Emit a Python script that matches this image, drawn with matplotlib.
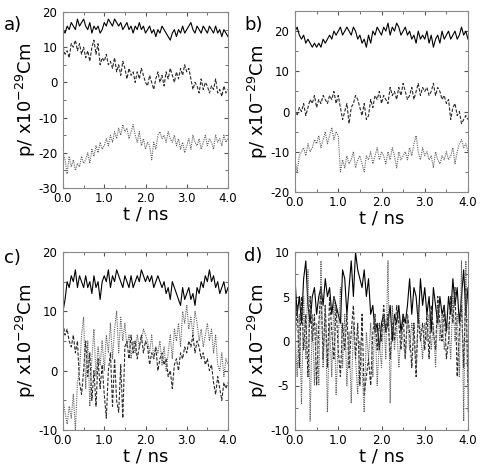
import numpy as np
import matplotlib
matplotlib.use("Agg")
import matplotlib.pyplot as plt

plt.rcParams["axes.unicode_minus"] = False

T = np.linspace(0.0, 4.0, 81)

A1 = [15, 14, 16, 15, 17, 16, 15, 18, 16, 17, 18,
      16, 15, 17, 14, 16, 15, 16, 14, 15, 17,
      16, 18, 17, 16, 18, 17, 16, 17, 15, 16,
      17, 15, 16, 14, 16, 15, 17, 15, 16, 14,
      15, 16, 14, 15, 13, 15, 14, 16, 15, 14,
      13, 12, 14, 15, 13, 15, 14, 16, 14, 15,
      16, 17, 15, 14, 16, 15, 14, 16, 15, 14,
      16, 15, 14, 16, 14, 15, 13, 15, 14, 13]
A2 = [10, 8, 9, 7, 11, 10, 12, 9, 11, 8, 10,
      7, 9, 6, 10, 12, 8, 11, 5, 7, 6,
      8, 5, 6, 4, 7, 3, 5, 2, 6, 4,
      1, 4, 2, 3, 0, 3, 1, 4, 2, 0,
      -1, 2, 0, -2, 1, 3, 0, 2, -1, 3,
      1, 4, 2, 0, 3, 1, 4, 2, 5, 3,
      4, 1, -2, 0, -1, -3, 1, -2, 0, -1,
      -3, -1, -2, 1, -3, -2, -4, -1, -3, -2]
A3 = [-20, -22, -26, -21, -24, -22, -25, -23, -24, -21, -23,
      -22, -20, -23, -19, -21, -18, -20, -17, -19, -18,
      -16, -18, -15, -17, -14, -16, -13, -15, -12, -14,
      -13, -16, -14, -12, -15, -17, -14, -18, -16, -19,
      -17, -18, -22, -17, -19, -15, -14, -16, -15, -17,
      -14, -16, -17, -15, -18, -16, -19, -17, -20, -18,
      -16, -19, -15, -17, -18, -16, -19, -17, -15, -18,
      -16, -17, -19, -15, -17, -16, -18, -15, -17, -16]

B1 = [20, 21, 19, 18, 19, 17, 18, 17, 16, 17, 16,
      17, 16, 18, 17, 18, 19, 18, 20, 19, 20,
      21, 19, 20, 21, 20, 19, 21, 20, 18, 19,
      17, 18, 16, 19, 17, 20, 19, 21, 20, 19,
      21, 20, 22, 19, 21, 20, 22, 21, 19, 20,
      21, 19, 20, 18, 19, 17, 20, 18, 19, 18,
      20, 17, 19, 16, 18, 19, 17, 20, 18, 19,
      20, 18, 19, 20, 18, 19, 21, 19, 20, 18]
B2 = [0, -1, 1, 0, 2, -1, 1, 3, 2, 4, 1,
      3, 2, 4, 3, 2, 4, 3, 5, 2, 4,
      1, -2, 0, 2, -3, 1, 2, 4, 3, 1,
      -1, 2, -2, -1, 3, 1, 4, 3, 5, 2,
      4, 3, 2, 6, 4, 5, 3, 6, 4, 7,
      5, 3, 4, 6, 3, 5, 7, 4, 6, 5,
      6, 4, 5, 7, 4, 6, 5, 3, 4, 2,
      3, -2, 1, 2, -1, 0, -3, -2, -1, -2]
B3 = [-12, -15, -11, -10, -9, -11, -8, -10, -9, -7, -8,
      -6, -9, -7, -5, -8, -6, -4, -7, -5, -6,
      -15, -12, -14, -11, -13, -12, -10, -14, -12, -11,
      -13, -15, -11, -12, -10, -13, -11, -9, -12, -10,
      -11, -13, -10, -12, -9, -11, -14, -10, -12, -11,
      -10, -12, -9, -11, -8, -6, -10, -12, -9, -11,
      -10, -12, -11, -14, -10, -12, -13, -11, -12, -10,
      -12, -11, -9, -13, -10, -8, -7, -9, -8, -10]

C1 = [10, 12, 15, 14, 16, 15, 17, 14, 16, 15, 14,
      16, 14, 15, 13, 16, 14, 15, 12, 15, 16,
      15, 17, 14, 16, 15, 17, 16, 15, 14, 16,
      15, 14, 16, 14, 15, 16, 15, 17, 16, 15,
      16, 15, 16, 14, 15, 16, 15, 14, 15, 13,
      14, 12, 15, 14, 13, 12, 11, 14, 12, 13,
      14, 12, 13, 11, 14, 13, 15, 14, 16, 15,
      17, 15, 16, 14, 15, 13, 14, 15, 13, 14]
C2 = [8, 6, 7, 5, 4, 6, 3, 5, -2, -4, 0,
      5, -1, 3, -5, 0, -6, 2, -3, 1, -4,
      -8, 0, 3, -6, 2, -5, -7, 1, -8, 4,
      5, 2, 6, 3, 5, 2, 4, 6, 3, 5,
      4, 1, 3, 2, 4, 0, 2, 3, 1, 2,
      -1, 0, -3, 1, 2, 0, 3, 2, 4, 3,
      5, 4, 6, 3, 5, 4, 2, 3, 1, 2,
      0, 1, -2, -4, -1, -3, -5, -2, -3, -2]
C3 = [-5, -7, -9, -6, -8, -4, -10, -2, 0, 6, 9,
      -3, 5, -6, 2, 7, -1, 4, 1, 5, 0,
      6, 3, 8, 2, 7, 10, 3, 9, 5, 8,
      4, 6, 2, 5, 3, 6, 4, 5, 7, 6,
      5, 3, 6, 2, 4, 3, 5, 1, 4, 0,
      3, 6, 2, 7, 5, 8, 4, 10, 8, 11,
      7, 9, 6, 10, 8, 5, 7, 4, 6, 8,
      5, 7, 3, 6, 1, 0, 3, -1, 2, 1]

D1 = [7, 3, 5, 2, 7, 9, 4, 2, 5, 6, 3,
      5, 6, 4, 7, 5, 6, 3, 5, 4, 3,
      2, 8, 7, 3, 6, 9, 5, 10, 8, 7,
      6, 8, 5, 7, 3, 4, 1, 2, -1, 2,
      3, 1, 2, 4, 0, 3, 2, 4, 1, 3,
      2, 4, 7, 3, 6, 5, 2, 7, 4, 6,
      3, 5, 1, 6, 4, 2, 5, 3, 4, 1,
      5, 3, 7, 4, 6, 2, 5, 8, 3, 6]
D2 = [0, 4, -3, 5, -1, 3, -4, 5, 0, 3, -5,
      2, 6, -2, 4, -3, 5, 1, -2, 4, -1,
      -4, 2, -1, 3, -3, 1, 4, -2, 2, -5,
      3, -6, -4, -2, -5, 1, 3, -1, 2, 0,
      4, 1, 3, -2, 2, 0, 4, 2, -1, 3,
      -2, 3, 1, -3, 2, -4, 3, 0, 2, -1,
      3, -2, 4, 1, -1, 5, 2, 0, 4, -2,
      0, 5, 2, 6, -4, 1, 4, -3, 6, -5]
D3 = [1, -4, 3, -7, 5, -2, 8, -9, 3, -5, 2,
      -5, 9, -3, 4, -8, 2, -4, 5, -6, 0,
      6, -3, 3, -5, 1, -7, 2, -2, -6, 0,
      -3, -8, 1, -2, 2, -4, 3, -5, 0, -3,
      3, -2, 9, -7, 4, -1, 2, -3, 1, 0,
      -2, 3, -1, 2, 0, -3, 4, 1, -2, 2,
      0, 3, -1, 2, -3, 4, 0, 3, -1, 1,
      2, -2, 5, 0, 3, -4, 9, -9, 9, -8]

PANELS = [
    ("a)", (A1, A2, A3), (-30, 20), [-30, -20, -10, 0, 10, 20]),
    ("b)", (B1, B2, B3), (-20, 25), [-20, -10, 0, 10, 20]),
    ("c)", (C1, C2, C3), (-10, 20), [-10, 0, 10, 20]),
    ("d)", (D1, D2, D3), (-10, 10), [-10, -5, 0, 5, 10]),
]
XTICKS = [0.0, 1.0, 2.0, 3.0, 4.0]
XTICKLABELS = ["0.0", "1.0", "2.0", "3.0", "4.0"]

W, H = 480, 468
fig = plt.figure(figsize=(W / 100, H / 100), dpi=100)

boxes = [
    (63, 12, 228, 188),
    (295, 11, 468, 192),
    (63, 252, 228, 430),
    (295, 252, 468, 430),
]
label_pos = [(4, 25), (244, 25), (4, 258), (244, 256)]

styles = [dict(color="black", ls="-", lw=0.8),
          dict(color="#2a2a2a", ls=(0, (3, 1.5)), lw=0.8),
          dict(color="#606060", ls=(0, (1, 1)), lw=0.8)]

for (lab, series, ylim, yticks), (x0, y0, x1, y1), (lx, ly) in zip(PANELS, boxes, label_pos):
    ax = fig.add_axes([x0 / W, 1 - y1 / H, (x1 - x0) / W, (y1 - y0) / H])
    for s, st in zip(series, styles):
        ax.plot(T, s, **st)
    ax.set_xlim(0, 4)
    ax.set_ylim(*ylim)
    ax.set_xticks(XTICKS)
    ax.set_xticklabels(XTICKLABELS)
    ax.set_yticks(yticks)
    ax.set_xticks([0.5, 1.5, 2.5, 3.5], minor=True)
    step = yticks[1] - yticks[0]
    ax.set_yticks(np.arange(ylim[0], ylim[1] + 0.01, step / 2), minor=True)
    ax.tick_params(which="both", direction="in", top=True, right=True,
                   labelsize=8.5, colors="#555555", labelcolor="black")
    ax.tick_params(axis="x", pad=3)
    ax.tick_params(axis="y", pad=4)
    ax.tick_params(which="major", length=3)
    ax.tick_params(which="minor", length=2)
    for sp in ax.spines.values():
        sp.set_color("#888888")
        sp.set_linewidth(0.8)
    ax.set_xlabel("t / ns", fontsize=13, labelpad=0)
    ax.set_ylabel("p/ x10$^{-29}$Cm", fontsize=13, labelpad=0)
    fig.text(lx / W, 1 - ly / H, lab, fontsize=13, ha="left", va="center")

fig.savefig("out.png", dpi=100)
